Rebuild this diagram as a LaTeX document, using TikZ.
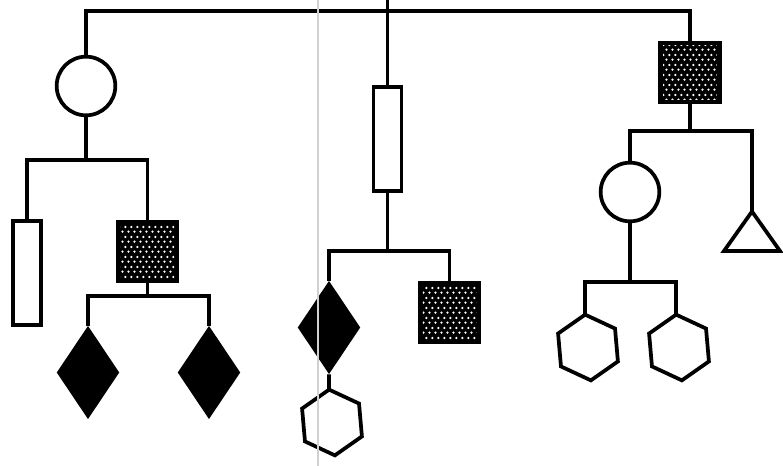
\documentclass[tikz,border=0pt]{standalone}
\usetikzlibrary{shapes.geometric,patterns.meta}
\tikzdeclarepattern{
  name=wdots,
  type=uncolored,
  bounding box={(0pt,0pt) and (4.8pt,7.6pt)},
  tile size={(4.8pt,7.6pt)},
  code={
    \pgfpathcircle{\pgfpoint{1.2pt}{1.9pt}}{1.0pt}
    \pgfpathcircle{\pgfpoint{3.6pt}{5.7pt}}{1.0pt}
    \pgfusepath{fill}
  }
}
\begin{document}
\begin{tikzpicture}[x=0.75pt,y=0.75pt,
  wire/.style={draw=black, line width=2.8pt},
  ring/.style={circle, draw=black, line width=2.8pt, fill=white, minimum size=44pt, inner sep=0pt},
  slab/.style={rectangle, draw=black, line width=2.8pt, fill=white, minimum width=21pt, minimum height=78pt, inner sep=0pt},
  dotsq/.style={rectangle, draw=black, line width=2.8pt, fill=black, minimum size=45pt, inner sep=0pt,
    path picture={\fill[pattern=wdots, pattern color=white]
      ([shift={(2.4pt,2.4pt)}]path picture bounding box.south west) rectangle
      ([shift={(-2.4pt,-2.4pt)}]path picture bounding box.north east);}},
  kite/.style={diamond, fill=black, minimum width=47pt, minimum height=70pt, inner sep=0pt},
  hexline/.style={draw=black, line width=2.8pt, line join=miter}
]
\useasboundingbox (0,-466) rectangle (783,0);

% top level
\coordinate (top) at (387.5,0);
\coordinate (b0) at (387.5,-11);
\node[ring] (c1) at (86,-86) {};
\node[slab] (r2) at (387.5,-139) {};
\node[dotsq] (s3) at (690,-72.5) {};
\draw[wire] (c1.north) |- (b0) -| (s3.north);
\draw[wire] (top) -- (r2.north);

% left subtree
\coordinate (b1) at (86,-160);
\node[slab] (r11) at (27,-273) {};
\node[dotsq] (s12) at (147.5,-251.5) {};
\draw[wire] (c1.south) -- (b1);
\draw[wire] (r11.north) |- (b1) -| (s12.north);
\coordinate (b2) at (147.5,-296);
\node[kite] (d1) at (88,-372.5) {};
\node[kite] (d2) at (209,-372.5) {};
\draw[wire] (s12.south) -- (b2);
\draw[wire] (d1.north) |- (b2) -| (d2.north);

% middle subtree
\coordinate (b3) at (387.5,-251);
\node[kite] (d3) at (329,-327.5) {};
\node[dotsq] (s22) at (449.5,-312.5) {};
\draw[wire] (r2.south) -- (b3);
\draw[wire] (d3.north) |- (b3) -| (s22.north);
\coordinate (h1) at (332,-422.5);
\coordinate (h1t) at ([shift={(95:33)}]h1);
\draw[wire] (d3.south) -- (h1t);

% right subtree
\coordinate (b4) at (690,-131);
\node[ring] (c3) at (630,-192) {};
\coordinate (t3) at (752,-211.5);
\draw[wire, line join=miter] (t3) -- (780,-251) -- (724,-251) -- cycle;
\draw[wire] (s3.south) -- (b4);
\draw[wire] (c3.north) |- (b4) -| (t3);
\coordinate (b5) at (630,-282);
\coordinate (h2) at (588,-347.5);
\coordinate (h3) at (679,-347.5);
\coordinate (h2t) at ([shift={(95:33)}]h2);
\coordinate (h3t) at ([shift={(95:33)}]h3);
\draw[wire] (c3.south) -- (b5);
\draw[wire] (h2t) |- (b5) -| (h3t);

% hexagons
\foreach \h in {h1,h2,h3}
  \draw[hexline] ([shift={(95:33)}]\h) -- ([shift={(155:33)}]\h) -- ([shift={(215:33)}]\h)
    -- ([shift={(275:33)}]\h) -- ([shift={(335:33)}]\h) -- ([shift={(35:33)}]\h) -- cycle;

% faint scan line
\draw[black!18, line width=2pt] (318,0) -- (318,-466);
\end{tikzpicture}
\end{document}
